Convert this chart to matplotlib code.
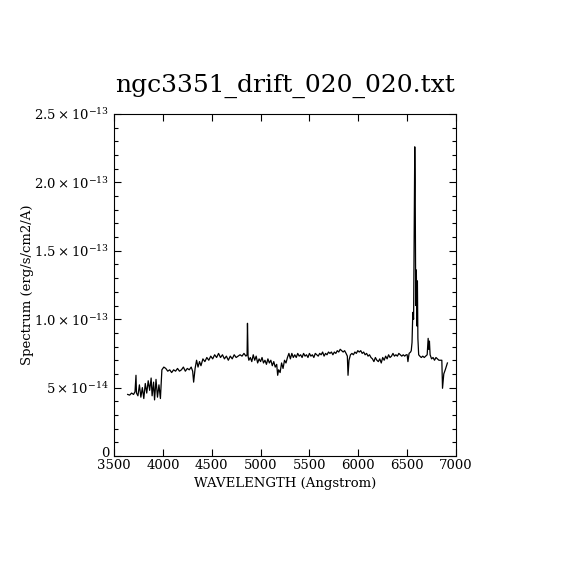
import matplotlib
matplotlib.use("Agg")
import matplotlib.pyplot as plt
from matplotlib.ticker import MultipleLocator
from matplotlib.transforms import ScaledTranslation

plt.rcParams['font.family'] = 'DejaVu Serif'
plt.rcParams['mathtext.fontset'] = 'dejavuserif'

title = "ngc3351_drift_020_020.txt"

# wavelength (Angstrom) and flux (units of 1e-14 erg/s/cm2/A)
wavelength = [
    3640, 3660, 3680, 3700, 3715, 3725, 3730, 3745, 3760, 3775, 3790, 3805,
    3820, 3835, 3850, 3865, 3880, 3890, 3905, 3915, 3930, 3945, 3960, 3975,
    3990, 4010, 4030, 4050, 4070, 4090, 4110, 4130, 4150, 4170, 4190, 4210,
    4230, 4250, 4270, 4290, 4305, 4315, 4330, 4345, 4360, 4375, 4390, 4410,
    4430, 4450, 4470, 4490, 4510, 4530, 4550, 4570, 4590, 4610, 4630, 4650,
    4670, 4690, 4710, 4730, 4750, 4770, 4790, 4810, 4830, 4850, 4862, 4866,
    4872, 4880, 4895, 4910, 4925, 4940, 4955, 4970, 4985, 5000, 5015, 5030,
    5045, 5060, 5075, 5090, 5105, 5120, 5135, 5150, 5165, 5175, 5185, 5200,
    5215, 5230, 5245, 5260, 5275, 5290, 5305, 5320, 5335, 5350, 5365, 5380,
    5395, 5410, 5425, 5440, 5455, 5470, 5485, 5500, 5515, 5530, 5545, 5560,
    5575, 5590, 5605, 5620, 5635, 5650, 5665, 5680, 5695, 5710, 5725, 5740,
    5755, 5770, 5785, 5800, 5815, 5830, 5845, 5860, 5875, 5888, 5895, 5905,
    5920, 5935, 5950, 5965, 5980, 5995, 6010, 6025, 6040, 6055, 6070, 6085,
    6100, 6115, 6130, 6145, 6160, 6175, 6190, 6205, 6220, 6235, 6250, 6265,
    6280, 6295, 6310, 6325, 6340, 6355, 6370, 6385, 6400, 6415, 6430, 6445,
    6460, 6475, 6490, 6500, 6508, 6520, 6535, 6542, 6550, 6558, 6566, 6572,
    6578, 6582, 6588, 6594, 6600, 6605, 6610, 6618, 6630, 6645, 6660, 6675,
    6690, 6705, 6715, 6722, 6728, 6735, 6750, 6765, 6780, 6795, 6810, 6825,
    6840, 6855, 6862, 6875, 6890, 6912,
]
flux = [
    4.5, 4.45, 4.6, 4.5, 4.7, 5.9, 4.6, 4.4, 5.2, 4.3, 5.0, 4.2,
    5.3, 4.6, 5.5, 4.8, 5.7, 4.4, 5.4, 4.1, 5.6, 4.3, 5.2, 4.2,
    6.3, 6.5, 6.4, 6.2, 6.3, 6.1, 6.3, 6.2, 6.4, 6.2, 6.3, 6.5,
    6.2, 6.4, 6.3, 6.5, 6.2, 5.4, 6.4, 7.0, 6.5, 6.9, 6.6, 7.1,
    6.9, 7.2, 7.0, 7.3, 7.1, 7.4, 7.2, 7.5, 7.2, 7.4, 7.1, 7.3,
    7.0, 7.3, 7.1, 7.4, 7.2, 7.3, 7.4, 7.3, 7.5, 7.3, 7.4, 9.7,
    7.3, 7.0, 7.2, 6.9, 7.4, 7.0, 7.3, 6.8, 7.1, 6.9, 7.2, 6.8,
    7.0, 6.7, 7.1, 6.8, 7.0, 6.6, 6.9, 6.5, 6.7, 5.9, 6.3, 6.1,
    6.8, 6.4, 7.0, 6.8, 7.2, 7.5, 7.1, 7.5, 7.2, 7.4, 7.2, 7.5,
    7.3, 7.4, 7.2, 7.5, 7.3, 7.4, 7.2, 7.5, 7.3, 7.4, 7.2, 7.5,
    7.4, 7.3, 7.5, 7.4, 7.6, 7.3, 7.5, 7.4, 7.6, 7.5, 7.6, 7.4,
    7.6, 7.5, 7.7, 7.6, 7.8, 7.7, 7.6, 7.7, 7.5, 7.3, 5.9, 7.0,
    7.4, 7.5, 7.4, 7.6, 7.5, 7.7, 7.6, 7.7, 7.5, 7.6, 7.4, 7.5,
    7.3, 7.4, 7.2, 7.1, 6.9, 7.2, 7.0, 6.9, 7.1, 6.8, 7.2, 7.0,
    7.3, 7.1, 7.4, 7.2, 7.3, 7.5, 7.3, 7.4, 7.3, 7.5, 7.4, 7.3,
    7.4, 7.3, 7.4, 7.4, 6.9, 7.5, 7.6, 7.7, 8.3, 10.5, 10.0, 16.0,
    22.6, 20.0, 11.0, 13.6, 9.5, 12.8, 8.6, 7.4, 7.3, 7.2, 7.3, 7.2,
    7.3, 7.4, 8.6, 7.8, 8.4, 7.4, 7.1, 7.2, 7.0, 7.2, 7.1, 7.0,
    7.0, 7.0, 4.95, 6.0, 6.3, 6.8,
]
flux = [f * 1e-14 for f in flux]

y_ticks = [0, 5e-14, 1.0e-13, 1.5e-13, 2.0e-13, 2.5e-13]
y_tick_labels = ["0", r"$5\times10^{-14}$", r"$1.0\times10^{-13}$",
                 r"$1.5\times10^{-13}$", r"$2.0\times10^{-13}$",
                 r"$2.5\times10^{-13}$"]

fig = plt.figure(figsize=(5.7, 5.7), dpi=100)
ax = fig.add_axes([0.2, 0.2, 0.6, 0.6])
ax.plot(wavelength, flux, color="black", linewidth=0.9)

ax.set_xlim(3500, 7000)
ax.set_ylim(0, 2.5e-13)
ax.xaxis.set_major_locator(MultipleLocator(500))
ax.set_yticks(y_ticks)
ax.set_yticklabels(y_tick_labels)
ax.yaxis.set_minor_locator(MultipleLocator(1e-14))
ax.tick_params(which="both", direction="in", top=True, right=True,
               labelsize=9.5, width=0.8)
ax.tick_params(which="major", length=5)
ax.tick_params(which="minor", length=3)
ax.tick_params(axis="x", pad=2.5)
for spine in ax.spines.values():
    spine.set_linewidth(0.8)

# lift the "0" label so it clears the 3500 label
zero_label = ax.get_yticklabels()[0]
zero_label.set_transform(zero_label.get_transform()
                         + ScaledTranslation(0, 3 / 72, fig.dpi_scale_trans))

ax.set_title(title, fontsize=18, pad=16)
ax.set_xlabel("WAVELENGTH (Angstrom)", fontsize=9.5, labelpad=3)
ax.set_ylabel("Spectrum (erg/s/cm2/A)", fontsize=9.5, labelpad=0)

fig.savefig("out.png", dpi=100)
